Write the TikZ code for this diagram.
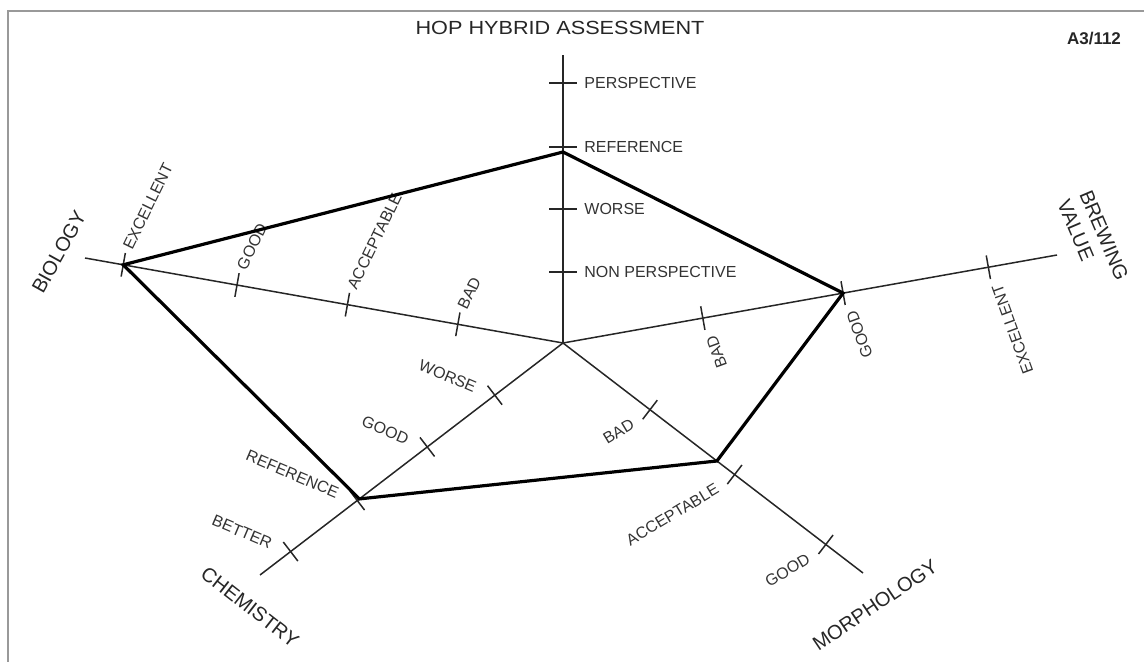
\documentclass[tikz,border=0pt]{standalone}
\usepackage{fontspec}
\usepackage{graphicx}
\setmainfont{Liberation Sans}
\usetikzlibrary{calc}
\begin{document}
\begin{tikzpicture}[x=0.5pt,y=-0.5pt,
  axis/.style={line width=0.75pt, black!85},
  tickmark/.style={line width=0.75pt, black!85},
  poly/.style={line width=1.6pt, line join=miter, black},
  lbl/.style={font=\fontsize{8}{9.6}\selectfont, inner sep=0pt, text=black!80},
  axname/.style={font=\fontsize{10}{12}\selectfont, inner sep=0pt, text=black!85},
  frame/.style={black!40, line width=1pt}]
\useasboundingbox (0,0) rectangle (1144,662);
\draw[frame] (8,662) -- (8,11) -- (1144,11);

% title
\node[font=\fontsize{9.5}{11}\selectfont, inner sep=0pt, text=black!85] (title) at (560,28) {\scalebox{1.14}[1]{HOP HYBRID ASSESSMENT}};
\node[font=\fontsize{8.5}{10}\selectfont\bfseries, inner sep=0pt, text=black!85] (code) at (1094,39) {A3/112};

% axes
\coordinate (C) at (563,343);
\coordinate (Tend) at (563,55);
\coordinate (Bend) at (85,258);
\coordinate (Wend) at (1057,255);
\coordinate (Mend) at (863,573);
\coordinate (Hend) at (260,575);
\foreach \e in {Tend,Bend,Wend,Mend,Hend} \draw[axis] (C) -- (\e);

% vertical axis ticks
\foreach \y/\t [count=\i] in {272/NON PERSPECTIVE, 209/WORSE, 147/REFERENCE, 83/PERSPECTIVE} {
  \coordinate (top\i) at (563,\y);
  \draw[tickmark] ($(top\i)+(-14,0)$) -- ($(top\i)+(14,0)$);
  \node[lbl, anchor=west] (topl\i) at ($(top\i)+(21,0)$) {\t};
}

% biology ticks
\foreach \f/\t [count=\i] in {0.22/BAD, 0.451/ACCEPTABLE, 0.682/GOOD, 0.92/EXCELLENT} {
  \coordinate (bio\i) at ($(C)!\f!(Bend)$);
  \draw[tickmark] ($(bio\i)!6pt!90:(Bend)$) -- ($(bio\i)!6pt!-90:(Bend)$);
  \node[lbl, rotate=64, anchor=west] (biol\i) at ($(bio\i)+(4,-16)$) {\t};
}

% brewing value ticks
\foreach \f/\t [count=\i] in {0.283/BAD, 0.567/GOOD, 0.861/EXCELLENT} {
  \coordinate (brw\i) at ($(C)!\f!(Wend)$);
  \draw[tickmark] ($(brw\i)!6pt!90:(Wend)$) -- ($(brw\i)!6pt!-90:(Wend)$);
  \node[lbl, rotate=110, anchor=east] (brwl\i) at ($(brw\i)+(8,18)$) {\t};
}

% morphology ticks
\foreach \f/\t [count=\i] in {0.29/BAD, 0.572/ACCEPTABLE, 0.876/GOOD} {
  \coordinate (mor\i) at ($(C)!\f!(Mend)$);
  \draw[tickmark] ($(mor\i)!6pt!90:(Mend)$) -- ($(mor\i)!6pt!-90:(Mend)$);
  \node[lbl, rotate=31, anchor=east] (morl\i) at ($(mor\i)+(-17,13)$) {\t};
}

% chemistry ticks
\foreach \f/\t [count=\i] in {0.225/WORSE, 0.448/GOOD, 0.679/REFERENCE, 0.899/BETTER} {
  \coordinate (che\i) at ($(C)!\f!(Hend)$);
  \draw[tickmark] ($(che\i)!6pt!90:(Hend)$) -- ($(che\i)!6pt!-90:(Hend)$);
  \node[lbl, rotate=-23, anchor=east] (chel\i) at ($(che\i)+(-19,-7)$) {\t};
}

% polygon vertices
\coordinate (vT) at (563,152);
\coordinate (vW) at (brw2);
\coordinate (vM) at ($(C)!0.513!(Mend)$);
\coordinate (vH) at ($(C)!0.672!(Hend)$);
\coordinate (vB) at (bio4);
\draw[poly] (vT) -- (vW) -- (vM) -- (vH) -- (vB) -- cycle;

% axis names
\node[axname, rotate=61] (biology) at (59,252) {BIOLOGY};
\node[axname, rotate=-67, align=left] (brewing) at (1093,240) {BREWING\\VALUE};
\node[axname, rotate=-38] (chemistry) at (250,607) {CHEMISTRY};
\node[axname, rotate=34] (morphology) at (875,605) {MORPHOLOGY};
\end{tikzpicture}
\end{document}
